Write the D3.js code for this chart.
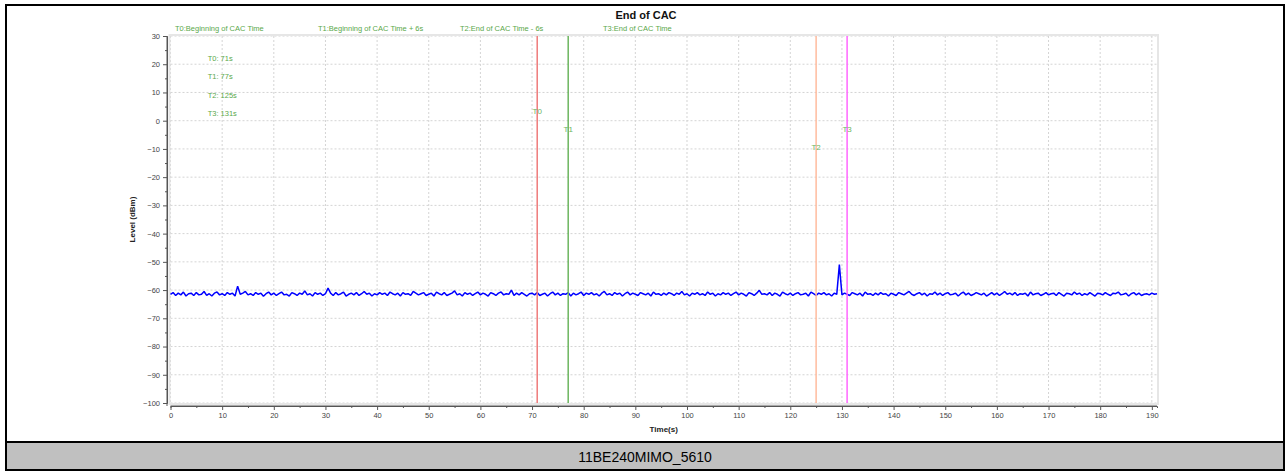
<!DOCTYPE html>
<html>
<head>
<meta charset="utf-8">
<script src="https://cdn.jsdelivr.net/npm/d3@7"></script>
<style>
  html, body { margin: 0; padding: 0; background: #fff; }
  svg { display: block; font-family: Arial, "Liberation Sans", sans-serif; }
</style>
</head>
<body>
<svg id="chart" width="1286" height="472"></svg>
<script>
// ---------- data ----------
const chartTitle = "End of CAC";
const captionText = "11BE240MIMO_5610";
const xAxisTitle = "Time(s)";
const yAxisTitle = "Level (dBm)";

const xDomain = [0, 191];
const yDomain = [-100, 30];
const xTickValues = [0,10,20,30,40,50,60,70,80,90,100,110,120,130,140,150,160,170,180,190];
const yTickValues = [30,20,10,0,-10,-20,-30,-40,-50,-60,-70,-80,-90,-100];

// marker lines
const markerNames  = ["T0", "T1", "T2", "T3"];
const markerTimes  = [71, 77, 125, 131];
const markerColors = ["#ef7b7b", "#6cb55f", "#ffbb9e", "#ff66ff"];
const markerLabelLevels = [3.6, -2.8, -9.3, -2.8];

// header legend texts
const headerTexts = ["T0:Beginning of CAC Time", "T1:Beginning of CAC Time + 6s", "T2:End of CAC Time - 6s", "T3:End of CAC Time"];
// inner info texts
const infoTexts  = ["T0: 71s", "T1: 77s", "T2: 125s", "T3: 131s"];
const infoLevels = [22.2, 15.7, 9.2, 2.7];
const infoTime   = 7.2;

// level trace, one sample every 0.5 s starting at 0 s
const sampleStep = 0.5;
const levelValues = [
-61.5,-60.9,-61.9,-61.1,-61.7,-60.7,-62.1,-61.3,-61.1,-61.9,-60.9,-61.7,-61.5,-60.5,-61.9,-61.3,-62.1,-61.1,-60.7,-61.7,
-61.3,-61.9,-60.9,-61.5,-61.1,-62.1,-58.6,-61.5,-61.1,-60.5,-61.7,-61.3,-61.9,-60.9,-61.5,-61.1,-62.2,-61.3,-60.7,-61.7,
-61.1,-61.9,-61.3,-60.7,-61.7,-61.5,-62.1,-60.9,-61.3,-61.9,-61.1,-61.5,-60.3,-61.7,-61.3,-62.1,-60.9,-61.5,-61.1,-61.9,
-61.3,-59.3,-61.1,-61.9,-60.9,-61.7,-61.3,-60.7,-62.1,-61.5,-61.1,-61.7,-60.9,-61.9,-61.3,-60.5,-61.5,-61.1,-62.1,-61.3,
-61.7,-60.9,-61.5,-61.1,-61.9,-60.7,-61.3,-61.7,-61.1,-62.1,-60.9,-61.5,-61.3,-61.9,-60.5,-61.1,-61.7,-61.3,-60.9,-61.9,
-61.5,-61.1,-62.1,-60.7,-61.3,-61.7,-60.9,-61.9,-61.5,-61.1,-60.3,-61.7,-61.3,-62.1,-60.9,-61.5,-61.1,-61.9,-61.3,-60.7,
-61.7,-61.1,-61.5,-62.1,-60.9,-61.3,-61.9,-61.1,-60.7,-61.7,-61.3,-61.5,-60.0,-61.9,-61.1,-61.7,-60.9,-61.5,-62.1,-61.3,
-61.1,-61.7,-60.9,-61.9,-61.5,-61.1,-62.1,-61.3,-60.7,-61.7,-61.1,-61.9,-61.3,-61.5,-60.9,-62.1,-61.1,-61.7,-61.3,-60.7,
-61.9,-61.1,-61.5,-60.9,-61.7,-61.3,-62.1,-61.1,-60.5,-61.7,-61.3,-61.9,-60.9,-61.5,-61.1,-62.1,-61.3,-60.7,-61.7,-61.1,
-61.5,-61.9,-60.9,-61.3,-61.7,-61.1,-62.1,-60.7,-61.5,-61.3,-61.9,-61.1,-61.7,-60.9,-61.3,-61.9,-61.1,-61.5,-60.5,-61.7,
-61.3,-62.1,-61.1,-61.5,-60.9,-61.7,-61.3,-61.9,-60.7,-61.5,-61.1,-62.1,-61.3,-61.7,-60.9,-61.5,-61.1,-61.9,-61.3,-60.7,
-61.7,-61.1,-61.5,-62.1,-60.9,-61.3,-61.9,-61.1,-60.1,-61.5,-61.3,-61.7,-60.9,-61.9,-61.1,-61.5,-62.1,-60.7,-61.3,-61.7,
-61.1,-61.9,-61.3,-60.9,-61.7,-61.5,-61.1,-62.1,-60.7,-61.3,-61.9,-61.1,-61.5,-60.9,-61.7,-61.3,-62.1,-61.1,-61.5,-51.0,
-61.7,-61.1,-61.5,-61.9,-60.9,-61.3,-61.7,-61.1,-62.1,-60.7,-61.5,-61.3,-61.9,-61.1,-61.7,-60.9,-61.5,-61.3,-62.1,-61.1,
-61.5,-61.9,-60.9,-61.3,-61.7,-61.1,-60.5,-61.5,-61.9,-61.3,-60.9,-61.7,-61.1,-62.1,-61.3,-61.5,-60.7,-61.7,-61.1,-61.9,
-61.3,-60.9,-61.7,-61.5,-61.1,-62.1,-61.3,-60.7,-61.7,-61.1,-61.9,-61.5,-60.9,-61.3,-61.7,-61.1,-62.1,-61.5,-60.9,-61.7,
-61.1,-61.9,-61.3,-60.5,-61.5,-61.1,-61.7,-60.9,-61.9,-61.3,-61.5,-61.1,-62.1,-60.7,-61.7,-61.3,-61.1,-61.9,-61.5,-60.9,
-61.7,-61.3,-61.1,-61.9,-60.9,-61.5,-62.1,-61.1,-61.3,-61.7,-60.7,-61.5,-61.1,-61.9,-61.3,-61.7,-60.9,-61.5,-62.1,-61.1,
-61.3,-61.7,-60.9,-61.5,-61.9,-61.1,-61.3,-60.7,-61.7,-61.5,-61.1,-62.1,-61.3,-60.9,-61.7,-61.1,-61.9,-61.5,-61.3,-61.7,
-61.1,-61.5,-61.3
];

// ---------- layout ----------
const W = 1286, H = 472;
const plot = { left: 170.5, right: 1157, top: 36, bottom: 403 };
const svg = d3.select("#chart");

const x = d3.scaleLinear().domain(xDomain).range([plot.left, plot.right]);
const y = d3.scaleLinear().domain(yDomain).range([plot.bottom, plot.top]);

// outer frame & caption band
svg.append("rect").attr("x", 0).attr("y", 0).attr("width", W).attr("height", H).attr("fill", "#fff");
svg.append("rect").attr("x", 7).attr("y", 443).attr("width", 1276).attr("height", 27).attr("fill", "#c0c0c0");
svg.append("line").attr("x1", 7).attr("x2", 1283).attr("y1", 442).attr("y2", 442).attr("stroke", "#000").attr("stroke-width", 2);
svg.append("rect").attr("x", 6).attr("y", 5).attr("width", 1278).attr("height", 465)
  .attr("fill", "none").attr("stroke", "#000").attr("stroke-width", 2);
svg.append("text").attr("x", 645).attr("y", 462).attr("text-anchor", "middle")
  .attr("font-size", 14).attr("fill", "#000").text(captionText);

// plot background + grid
const g = svg.append("g");
g.append("g").selectAll("line").data(xTickValues).join("line")
  .attr("x1", d => x(d)).attr("x2", d => x(d)).attr("y1", plot.top).attr("y2", plot.bottom)
  .attr("stroke", "#d4d4d4").attr("stroke-width", 1).attr("stroke-dasharray", "2,2");
g.append("g").selectAll("line").data(yTickValues).join("line")
  .attr("x1", plot.left).attr("x2", plot.right).attr("y1", d => y(d)).attr("y2", d => y(d))
  .attr("stroke", "#d4d4d4").attr("stroke-width", 1).attr("stroke-dasharray", "2,2");
g.append("rect").attr("x", plot.left - 1).attr("y", plot.top - 1)
  .attr("width", plot.right - plot.left + 2).attr("height", plot.bottom - plot.top + 2)
  .attr("fill", "none").attr("stroke", "#e6e6e6").attr("stroke-width", 2);

// trace
const line = d3.line().x((d, i) => x(i * sampleStep)).y(d => y(d));
g.append("path").datum(levelValues).attr("d", line)
  .attr("fill", "none").attr("stroke", "#0000ff").attr("stroke-width", 1.5)
  .attr("stroke-linejoin", "bevel");

// marker lines
g.append("g").selectAll("line").data(markerTimes).join("line")
  .attr("x1", d => x(d)).attr("x2", d => x(d)).attr("y1", plot.top).attr("y2", plot.bottom)
  .attr("stroke", (d, i) => markerColors[i]).attr("stroke-width", 1.5);
g.append("g").selectAll("text").data(markerNames).join("text")
  .attr("x", (d, i) => x(markerTimes[i])).attr("y", (d, i) => y(markerLabelLevels[i]) + 3)
  .attr("text-anchor", "middle").attr("font-size", 8).attr("fill", "#6cb55f").text(d => d);

// info texts
g.append("g").selectAll("text").data(infoTexts).join("text")
  .attr("x", x(infoTime)).attr("y", (d, i) => y(infoLevels[i]) + 3)
  .attr("font-size", 7.5).attr("fill", "#5aa84a").text(d => d);

// header legend texts
const headerX = [175, 318, 460, 603];
svg.append("g").selectAll("text").data(headerTexts).join("text")
  .attr("x", (d, i) => headerX[i]).attr("y", 31)
  .attr("font-size", 7.5).attr("fill", "#5aa84a").text(d => d);

// title
svg.append("text").attr("x", 646).attr("y", 18.5).attr("text-anchor", "middle")
  .attr("font-size", 11).attr("font-weight", "bold").attr("fill", "#111").text(chartTitle);

// axes
const axisColor = "#555";
const yAxisG = svg.append("g").attr("transform", "translate(167,0)")
  .call(d3.axisLeft(y).tickValues(yTickValues).tickSize(4).tickSizeOuter(0).tickPadding(3));
const yMinor = svg.append("g").attr("transform", "translate(167,0)")
  .call(d3.axisLeft(y).tickValues(d3.range(-95, 30, 10)).tickSize(2).tickFormat(""));
const xAxisG = svg.append("g").attr("transform", "translate(0,406)")
  .call(d3.axisBottom(x).tickValues(xTickValues).tickSize(4).tickSizeOuter(0).tickPadding(3));
const xMinor = svg.append("g").attr("transform", "translate(0,406)")
  .call(d3.axisBottom(x).tickValues(d3.range(5, 191, 10)).tickSize(2).tickFormat(""));
[yAxisG, yMinor, xAxisG, xMinor].forEach(a => {
  a.selectAll("path").attr("stroke", axisColor);
  a.selectAll("line").attr("stroke", axisColor);
  a.selectAll("text").attr("fill", "#444").attr("font-size", 7.5).attr("font-family", "Arial, sans-serif");
});
xAxisG.select(".domain").attr("d", `M${plot.left},0H${plot.right}`);
yAxisG.select(".domain").attr("d", `M0,${plot.top}V${plot.bottom + 3}`);

// axis titles
svg.append("text").attr("x", (plot.left + plot.right) / 2).attr("y", 432).attr("text-anchor", "middle")
  .attr("font-size", 8).attr("font-weight", "bold").attr("fill", "#222").text(xAxisTitle);
svg.append("text").attr("transform", `translate(134.5,${(plot.top + plot.bottom) / 2}) rotate(-90)`)
  .attr("text-anchor", "middle").attr("font-size", 8).attr("font-weight", "bold").attr("fill", "#222").text(yAxisTitle);
</script>
</body>
</html>
